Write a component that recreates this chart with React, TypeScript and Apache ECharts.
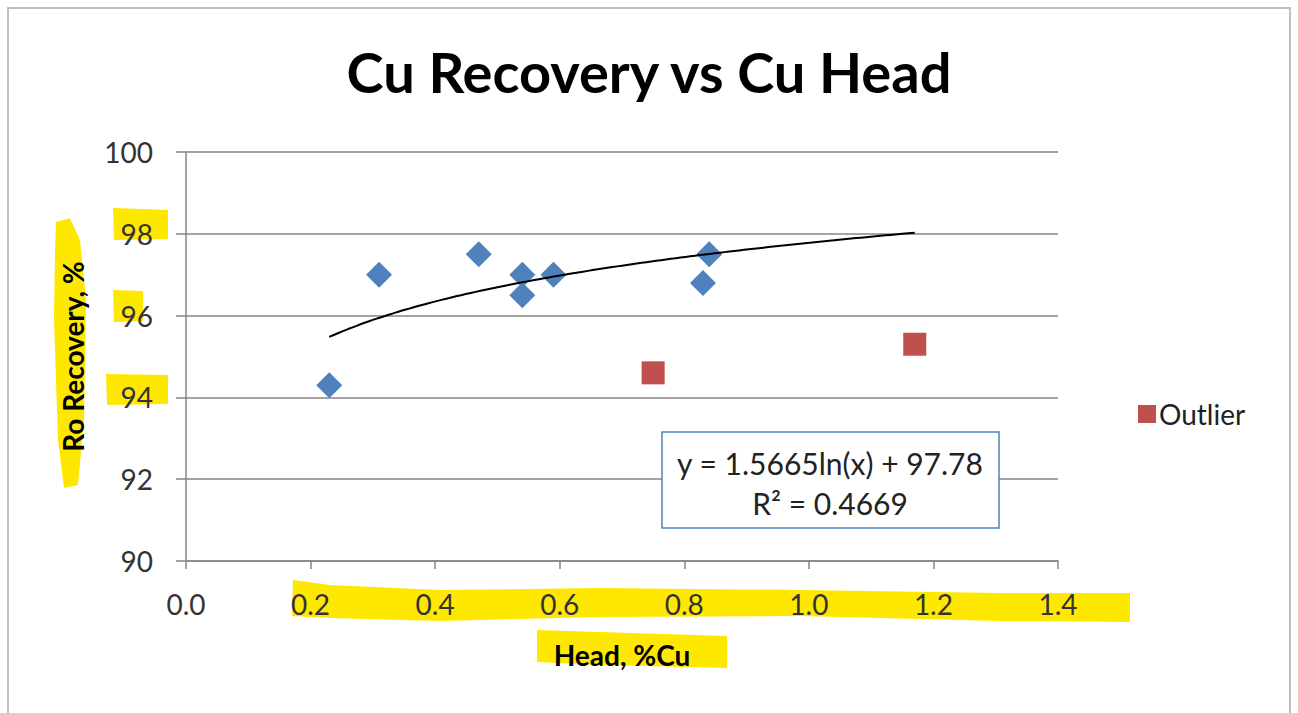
import React, { useEffect, useRef } from "react";
import * as echarts from "echarts";

const mainData: [number, number][] = [
  [0.23, 94.3],
  [0.31, 97.0],
  [0.47, 97.5],
  [0.54, 97.0],
  [0.54, 96.5],
  [0.59, 97.0],
  [0.83, 96.8],
  [0.84, 97.5],
];
const outlierData: [number, number][] = [
  [0.75, 94.6],
  [1.17, 95.3],
];
const trendCoefA = 1.5665;
const trendCoefB = 97.78;
const trendRange: [number, number] = [0.23, 1.17];
const equationText = "y = 1.5665ln(x) + 97.78";
const r2Text = "R² = 0.4669";
const titleText = "Cu Recovery vs Cu Head";
const xAxisName = "Head, %Cu";
const yAxisName = "Ro Recovery, %";

const FONT = "Lato, 'Open Sans', sans-serif";

export default function App() {
  const ref = useRef<HTMLDivElement>(null);
  useEffect(() => {
    if (!ref.current) return;
    const chart = echarts.init(ref.current, undefined, { renderer: "svg" });
    const trend: [number, number][] = [];
    const steps = 60;
    for (let i = 0; i <= steps; i++) {
      const x = trendRange[0] + ((trendRange[1] - trendRange[0]) * i) / steps;
      trend.push([x, trendCoefA * Math.log(x) + trendCoefB]);
    }
    const yellow = "#FFE800";
    chart.setOption({
      animation: false,
      backgroundColor: "#fff",
      textStyle: { fontFamily: FONT },
      title: {
        text: titleText,
        left: "center",
        top: 38,
        textStyle: { fontSize: 56, fontWeight: "bold", color: "#000", fontFamily: FONT },
      },
      legend: {
        data: ["Outlier"],
        left: 1133,
        top: 395,
        orient: "vertical",
        icon: "rect",
        itemWidth: 18,
        itemHeight: 18,
        itemGap: 6,
        itemStyle: { opacity: 1 },
        textStyle: { fontSize: 28, color: "#222", fontFamily: FONT, padding: [0, 0, 0, -2] },
      },
      grid: { left: 186, right: 240, top: 152, bottom: 152, containLabel: false },
      xAxis: {
        type: "value",
        min: 0,
        max: 1.4,
        interval: 0.2,
        name: xAxisName,
        nameLocation: "middle",
        nameGap: 80,
        nameTextStyle: { fontSize: 28, fontWeight: "bold", color: "#000", fontFamily: FONT },
        axisLine: { show: true, lineStyle: { color: "#868686", width: 1.5 } },
        axisTick: { show: true, length: 8, lineStyle: { color: "#868686", width: 1.5 } },
        axisLabel: {
          fontSize: 28,
          color: "#333",
          margin: 29,
          formatter: (v: number) => v.toFixed(1),
        },
        splitLine: { show: false },
      },
      yAxis: {
        type: "value",
        min: 90,
        max: 100,
        interval: 2,
        name: yAxisName,
        nameLocation: "middle",
        nameGap: 99,
        nameRotate: 90,
        nameTextStyle: { fontSize: 28, fontWeight: "bold", color: "#000", fontFamily: FONT },
        axisLine: { show: true, lineStyle: { color: "#868686", width: 1.5 } },
        axisTick: { show: true, length: 10, lineStyle: { color: "#868686", width: 1.5 } },
        axisLabel: { fontSize: 28, color: "#333", margin: 33 },
        splitLine: { show: true, lineStyle: { color: "#868686", width: 1.5 } },
      },
      series: [
        {
          name: "Main",
          type: "scatter",
          symbol: "diamond",
          symbolSize: 26,
          itemStyle: { color: "#4F81BD", opacity: 1 },
          data: mainData,
          z: 3,
        },
        {
          name: "Outlier",
          type: "scatter",
          symbol: "rect",
          symbolSize: 23,
          itemStyle: { color: "#C0504D", opacity: 1 },
          data: outlierData,
          z: 3,
        },
        {
          name: "Trend",
          type: "line",
          data: trend,
          showSymbol: false,
          symbol: "none",
          smooth: true,
          lineStyle: { color: "#000", width: 2 },
          z: 4,
        },
      ],
      graphic: [
        {
          type: "rect",
          shape: { x: 8, y: 8, width: 1282, height: 720 },
          style: { fill: "none", stroke: "#BFBFBF", lineWidth: 2 },
          z: -10,
          silent: true,
        },
        // yellow highlighter marks
        {
          type: "polygon",
          shape: { points: [[56, 222], [70, 218], [80, 240], [86, 300], [84, 420], [78, 485], [64, 488], [58, 440], [54, 320], [55, 250]] },
          style: { fill: yellow },
          z: -5,
          silent: true,
        },
        {
          type: "polygon",
          shape: { points: [[113, 208], [168, 210], [168, 239], [114, 240]] },
          style: { fill: yellow },
          z: -5,
          silent: true,
        },
        {
          type: "polygon",
          shape: { points: [[113, 290], [143, 291], [143, 321], [114, 322]] },
          style: { fill: yellow },
          z: -5,
          silent: true,
        },
        {
          type: "polygon",
          shape: { points: [[106, 374], [168, 375], [168, 404], [107, 405]] },
          style: { fill: yellow },
          z: -5,
          silent: true,
        },
        {
          type: "polygon",
          shape: { points: [[293, 580], [330, 585], [440, 590], [600, 588], [800, 590], [1000, 593], [1130, 593], [1130, 622], [1000, 621], [800, 616], [600, 617], [440, 621], [330, 618], [292, 616]] },
          style: { fill: yellow },
          z: -5,
          silent: true,
        },
        {
          type: "polygon",
          shape: { points: [[537, 630], [600, 632], [727, 636], [727, 668], [600, 665], [537, 662]] },
          style: { fill: yellow },
          z: -5,
          silent: true,
        },
        // trendline equation box
        {
          type: "rect",
          shape: { x: 662, y: 432, width: 337, height: 96 },
          style: { fill: "#fff", stroke: "#4F81BD", lineWidth: 1.5 },
          z: 10,
          silent: true,
        },
        {
          type: "text",
          x: 830,
          y: 463,
          style: { text: equationText, fontSize: 30, fill: "#222", fontFamily: FONT, align: "center", verticalAlign: "middle" },
          z: 11,
          silent: true,
        },
        {
          type: "text",
          x: 830,
          y: 503,
          style: { text: r2Text, fontSize: 30, fill: "#222", fontFamily: FONT, align: "center", verticalAlign: "middle" },
          z: 11,
          silent: true,
        },
      ],
    });
    return () => chart.dispose();
  }, []);
  return <div ref={ref} style={{ width: 1298, height: 713, position: "absolute", left: 0, top: 0 }} />;
}
